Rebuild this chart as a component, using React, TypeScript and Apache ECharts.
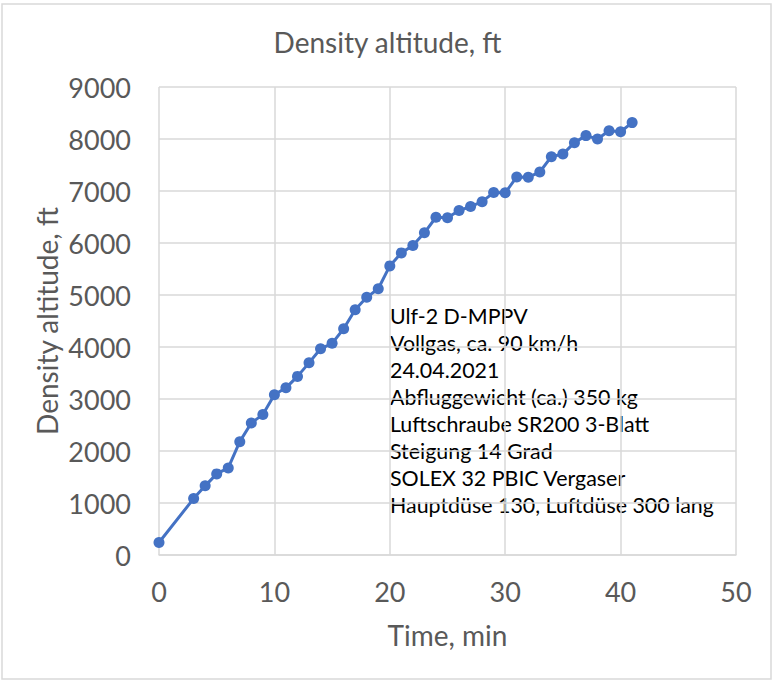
import React, { useEffect, useRef } from "react";
import * as echarts from "echarts";

const minutes = [0, 3, 4, 5, 6, 7, 8, 9, 10, 11, 12, 13, 14, 15, 16, 17, 18, 19, 20, 21, 22, 23, 24, 25, 26, 27, 28, 29, 30, 31, 32, 33, 34, 35, 36, 37, 38, 39, 40, 41];
const densityAltitude = [240, 1085, 1330, 1560, 1675, 2180, 2540, 2700, 3080, 3215, 3435, 3695, 3965, 4070, 4350, 4715, 4955, 5120, 5560, 5810, 5950, 6195, 6495, 6485, 6625, 6700, 6795, 6970, 6965, 7270, 7265, 7365, 7660, 7710, 7930, 8065, 8000, 8160, 8140, 8315];
const noteLines = [
  "Ulf-2 D-MPPV",
  "Vollgas, ca. 90 km/h",
  "24.04.2021",
  "Abfluggewicht (ca.) 350 kg",
  "Luftschraube SR200 3-Blatt",
  "Steigung 14 Grad",
  "SOLEX 32 PBIC Vergaser",
  "Hauptdüse 130, Luftdüse 300 lang",
];
const chartTitle = "Density altitude, ft";
const xName = "Time, min";
const yName = "Density altitude, ft";

const FONT = "Lato, 'Open Sans', sans-serif";
const GREY = "#595959";

export default function App() {
  const ref = useRef<HTMLDivElement>(null);
  useEffect(() => {
    document.body.style.margin = "0";
    const chart = echarts.init(ref.current!, null, { renderer: "svg" });
    chart.setOption({
      animation: false,
      backgroundColor: "#ffffff",
      title: {
        text: chartTitle,
        left: "center",
        top: 23,
        textStyle: { fontFamily: FONT, fontSize: 28, fontWeight: "normal", color: GREY },
      },
      grid: { left: 159, right: 39, top: 87, bottom: 127, containLabel: false },
      xAxis: {
        type: "value",
        min: 0,
        max: 50,
        interval: 10,
        name: xName,
        nameLocation: "middle",
        nameGap: 66,
        nameMoveOverlap: false,
        nameTextStyle: { fontFamily: FONT, fontSize: 28, color: GREY },
        axisLine: { show: true, lineStyle: { color: "#d9d9d9", width: 1.5 } },
        axisTick: { show: false },
        axisLabel: { fontFamily: FONT, fontSize: 27, color: GREY, margin: 23 },
        splitLine: { show: true, lineStyle: { color: "#d9d9d9", width: 1.5 } },
      },
      yAxis: {
        type: "value",
        min: 0,
        max: 9000,
        interval: 1000,
        name: yName,
        nameLocation: "middle",
        nameGap: 98,
        nameMoveOverlap: false,
        nameTextStyle: { fontFamily: FONT, fontSize: 28, color: GREY },
        axisLine: { show: false },
        axisTick: { show: false },
        axisLabel: { fontFamily: FONT, fontSize: 27, color: GREY, margin: 28, formatter: (v: number) => String(v) },
        splitLine: { show: true, lineStyle: { color: "#d9d9d9", width: 1.5 } },
      },
      series: [
        {
          type: "line",
          data: minutes.map((m, i) => [m, densityAltitude[i]]),
          symbol: "circle",
          symbolSize: 11,
          lineStyle: { color: "#4472C4", width: 3 },
          itemStyle: { color: "#4472C4" },
        },
      ],
      graphic: [
        {
          type: "rect",
          shape: { x: 2, y: 4, width: 769, height: 675 },
          style: { fill: "none", stroke: "#d9d9d9", lineWidth: 1.5 },
          silent: true,
        },
        {
          type: "text",
          left: 390,
          top: 302,
          style: {
            text: noteLines.join("\n"),
            fontFamily: FONT,
            fontSize: 21.4,
            lineHeight: 27,
            fill: "#000000",
          },
        },
      ],
    });
    return () => chart.dispose();
  }, []);
  return <div ref={ref} style={{ width: 775, height: 682 }} />;
}
